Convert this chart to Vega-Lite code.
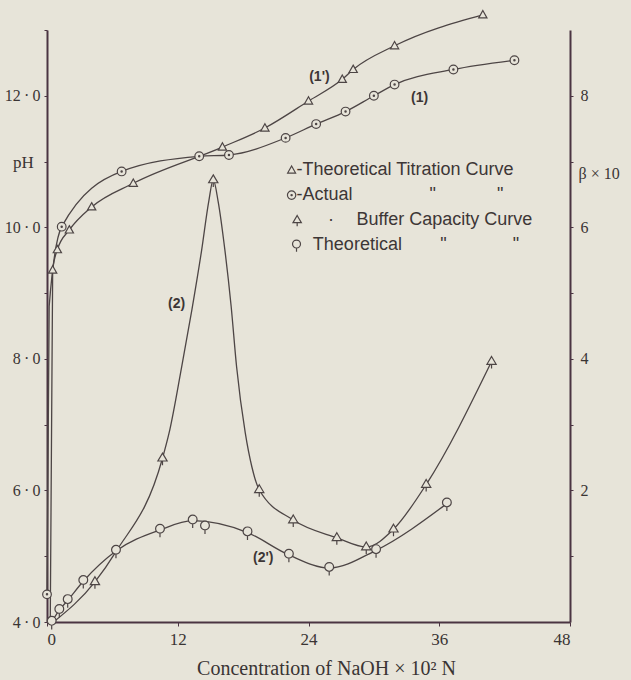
{
  "$schema": "https://vega.github.io/schema/vega-lite/v6.json",
  "width": 523,
  "height": 592,
  "autosize": {"type": "none"},
  "padding": {"left": 47, "top": 30, "right": 61, "bottom": 58},
  "background": "#e7e4d9",
  "config": {
    "view": {"stroke": null},
    "axis": {
      "domainColor": "#4b3442",
      "domainWidth": 2,
      "tickColor": "#4b3442",
      "labelColor": "#3a3434",
      "titleColor": "#3a3434",
      "labelFont": "Liberation Serif",
      "titleFont": "Liberation Serif",
      "titleFontWeight": "normal",
      "grid": false
    }
  },
  "datasets": {
    "titration": [
      {"curve": "1'", "naoh": 0.3, "pH": 4.05, "marker": "no"},
      {"curve": "1'", "naoh": 0.52, "pH": 9.35, "marker": "yes"},
      {"curve": "1'", "naoh": 0.95, "pH": 9.66, "marker": "yes"},
      {"curve": "1'", "naoh": 2.05, "pH": 9.96, "marker": "yes"},
      {"curve": "1'", "naoh": 4.1, "pH": 10.31, "marker": "yes"},
      {"curve": "1'", "naoh": 7.92, "pH": 10.67, "marker": "yes"},
      {"curve": "1'", "naoh": 16.1, "pH": 11.22, "marker": "yes"},
      {"curve": "1'", "naoh": 20.0, "pH": 11.51, "marker": "yes"},
      {"curve": "1'", "naoh": 24.0, "pH": 11.92, "marker": "yes"},
      {"curve": "1'", "naoh": 27.1, "pH": 12.25, "marker": "yes"},
      {"curve": "1'", "naoh": 28.1, "pH": 12.4, "marker": "yes"},
      {"curve": "1'", "naoh": 31.9, "pH": 12.76, "marker": "yes"},
      {"curve": "1'", "naoh": 40.0, "pH": 13.23, "marker": "yes"},
      {"curve": "1", "naoh": 0.0, "pH": 4.42, "marker": "yes"},
      {"curve": "1", "naoh": 0.2, "pH": 8.8, "marker": "no"},
      {"curve": "1", "naoh": 1.35, "pH": 10.01, "marker": "yes"},
      {"curve": "1", "naoh": 6.85, "pH": 10.85, "marker": "yes"},
      {"curve": "1", "naoh": 13.97, "pH": 11.08, "marker": "yes"},
      {"curve": "1", "naoh": 16.7, "pH": 11.1, "marker": "yes"},
      {"curve": "1", "naoh": 21.9, "pH": 11.36, "marker": "yes"},
      {"curve": "1", "naoh": 24.7, "pH": 11.57, "marker": "yes"},
      {"curve": "1", "naoh": 27.4, "pH": 11.76, "marker": "yes"},
      {"curve": "1", "naoh": 30.0, "pH": 12.0, "marker": "yes"},
      {"curve": "1", "naoh": 31.9, "pH": 12.17, "marker": "yes"},
      {"curve": "1", "naoh": 37.3, "pH": 12.4, "marker": "yes"},
      {"curve": "1", "naoh": 42.9, "pH": 12.54, "marker": "yes"}
    ],
    "buffer": [
      {"curve": "2", "naoh": 0.6, "beta": 0.0, "marker": "no"},
      {"curve": "2", "naoh": 4.4, "beta": 0.61, "marker": "yes"},
      {"curve": "2", "naoh": 6.33, "beta": 1.07, "marker": "no"},
      {"curve": "2", "naoh": 10.6, "beta": 2.49, "marker": "yes"},
      {"curve": "2", "naoh": 11.2, "beta": 2.87, "marker": "no"},
      {"curve": "2", "naoh": 12.36, "beta": 3.88, "marker": "no"},
      {"curve": "2", "naoh": 13.3, "beta": 4.75, "marker": "no"},
      {"curve": "2", "naoh": 14.19, "beta": 5.65, "marker": "no"},
      {"curve": "2", "naoh": 14.85, "beta": 6.4, "marker": "no"},
      {"curve": "2", "naoh": 15.26, "beta": 6.72, "marker": "yes"},
      {"curve": "2", "naoh": 15.7, "beta": 6.4, "marker": "no"},
      {"curve": "2", "naoh": 16.33, "beta": 5.65, "marker": "no"},
      {"curve": "2", "naoh": 16.9, "beta": 4.8, "marker": "no"},
      {"curve": "2", "naoh": 17.4, "beta": 3.88, "marker": "no"},
      {"curve": "2", "naoh": 18.2, "beta": 2.87, "marker": "no"},
      {"curve": "2", "naoh": 18.8, "beta": 2.36, "marker": "no"},
      {"curve": "2", "naoh": 19.48, "beta": 2.01, "marker": "yes"},
      {"curve": "2", "naoh": 22.6, "beta": 1.55, "marker": "yes"},
      {"curve": "2", "naoh": 26.6, "beta": 1.28, "marker": "yes"},
      {"curve": "2", "naoh": 29.3, "beta": 1.14, "marker": "yes"},
      {"curve": "2", "naoh": 31.8, "beta": 1.41, "marker": "yes"},
      {"curve": "2", "naoh": 34.8, "beta": 2.09, "marker": "yes"},
      {"curve": "2", "naoh": 40.8, "beta": 3.96, "marker": "yes"},
      {"curve": "2'", "naoh": 0.43, "beta": 0.0, "marker": "yes"},
      {"curve": "2'", "naoh": 1.13, "beta": 0.18, "marker": "yes"},
      {"curve": "2'", "naoh": 1.9, "beta": 0.33, "marker": "yes"},
      {"curve": "2'", "naoh": 3.33, "beta": 0.62, "marker": "yes"},
      {"curve": "2'", "naoh": 6.33, "beta": 1.08, "marker": "yes"},
      {"curve": "2'", "naoh": 10.37, "beta": 1.4, "marker": "yes"},
      {"curve": "2'", "naoh": 13.37, "beta": 1.54, "marker": "yes"},
      {"curve": "2'", "naoh": 14.5, "beta": 1.45, "marker": "off"},
      {"curve": "2'", "naoh": 18.4, "beta": 1.36, "marker": "yes"},
      {"curve": "2'", "naoh": 22.2, "beta": 1.02, "marker": "yes"},
      {"curve": "2'", "naoh": 25.9, "beta": 0.82, "marker": "yes"},
      {"curve": "2'", "naoh": 30.2, "beta": 1.09, "marker": "yes"},
      {"curve": "2'", "naoh": 36.7, "beta": 1.8, "marker": "yes"}
    ],
    "legendSymbols": [
      {"curve": "1'", "naoh": 22.45, "pH": 10.87},
      {"curve": "1", "naoh": 22.45, "pH": 10.49},
      {"curve": "2", "naoh": 22.96, "pH": 10.11},
      {"curve": "2'", "naoh": 22.9, "pH": 9.73}
    ],
    "legendText": [
      {"text": "-Theoretical Titration Curve", "naoh": 22.9, "pH": 10.87},
      {"text": "-Actual", "naoh": 22.9, "pH": 10.49},
      {"text": "\"", "naoh": 35.1, "pH": 10.49},
      {"text": "\"", "naoh": 41.3, "pH": 10.49},
      {"text": "·", "naoh": 25.8, "pH": 10.11},
      {"text": "Buffer Capacity Curve", "naoh": 28.4, "pH": 10.11},
      {"text": "Theoretical", "naoh": 24.4, "pH": 9.73},
      {"text": "\"", "naoh": 36.1, "pH": 9.73},
      {"text": "\"", "naoh": 42.75, "pH": 9.73}
    ],
    "curveLabels": [
      {"text": "(1')", "naoh": 25.0, "pH": 12.29},
      {"text": "(1)", "naoh": 34.2, "pH": 11.96},
      {"text": "(2)", "naoh": 11.9, "pH": 8.84},
      {"text": "(2')", "naoh": 19.85, "pH": 4.97}
    ]
  },
  "encoding": {
    "x": {
      "field": "naoh",
      "type": "quantitative",
      "scale": {"domain": [0, 48], "nice": false, "zero": false},
      "axis": {
        "values": [0, 12, 24, 36, 48],
        "title": "Concentration of NaOH × 10² N",
        "titleFontSize": 20,
        "titleX": 279,
        "titleAnchor": "middle",
        "titlePadding": 11,
        "labelFontSize": 17,
        "labelPadding": 5,
        "tickSize": 4
      }
    }
  },
  "layer": [
    {
      "encoding": {
        "y": {
          "field": "pH",
          "type": "quantitative",
          "scale": {"domain": [4, 13], "nice": false, "zero": false},
          "axis": {
            "orient": "left",
            "values": [4, 5, 6, 7, 8, 9, 10, 11, 12, 13],
            "labelExpr": "datum.value % 2 == 0 ? replace(format(datum.value, '.1f'), '.', '\u2009·\u2009') : ''",
            "labelFontSize": 16,
            "labelPadding": 4,
            "tickSize": 3,
            "title": "pH",
            "titleAngle": 0,
            "titleX": -24,
            "titleY": 132,
            "titleAlign": "center",
            "titleBaseline": "middle",
            "titleFontSize": 17
          }
        }
      },
      "layer": [
        {
          "data": {"name": "titration"},
          "mark": {"type": "line", "interpolate": "monotone", "color": "#4d4545", "strokeWidth": 1.3},
          "encoding": {"detail": {"field": "curve", "type": "nominal"}}
        },
        {
          "data": {"name": "titration"},
          "transform": [{"filter": "datum.marker == 'yes'"}],
          "mark": {"type": "point", "filled": true, "fill": "#e7e4d9", "stroke": "#4d4545", "strokeWidth": 1.2, "size": 75, "opacity": 1},
          "encoding": {
            "shape": {
              "field": "curve",
              "type": "nominal",
              "scale": {
                "domain": ["1'", "1", "2", "2'"],
                "range": [
                  "M0,-1L0.95,0.7L-0.95,0.7Z",
                  "M-1,0A1,1 0 1,0 1,0A1,1 0 1,0 -1,0Z M-0.15,0A0.15,0.15 0 1,0 0.15,0A0.15,0.15 0 1,0 -0.15,0Z",
                  "M0,-1.1L1,0.6L-1,0.6Z M0,0.6L0,1.5",
                  "M-0.95,-0.25A0.95,0.95 0 1,0 0.95,-0.25A0.95,0.95 0 1,0 -0.95,-0.25Z M0,0.7L0,1.6"
                ]
              },
              "legend": null
            }
          }
        },
        {
          "data": {"name": "legendSymbols"},
          "mark": {"type": "point", "filled": true, "fill": "#e7e4d9", "stroke": "#4d4545", "strokeWidth": 1.2, "size": 70, "opacity": 1},
          "encoding": {
            "shape": {"field": "curve", "type": "nominal", "legend": null}
          }
        },
        {
          "data": {"name": "legendText"},
          "mark": {"type": "text", "align": "left", "baseline": "middle", "font": "Liberation Sans", "fontSize": 18, "color": "#3d3636"},
          "encoding": {"text": {"field": "text"}}
        },
        {
          "data": {"name": "curveLabels"},
          "mark": {"type": "text", "align": "center", "baseline": "middle", "font": "Liberation Sans", "fontWeight": "bold", "fontSize": 14, "color": "#3d3636"},
          "encoding": {"text": {"field": "text"}}
        }
      ]
    },
    {
      "data": {"name": "buffer"},
      "encoding": {
        "y": {
          "field": "beta",
          "type": "quantitative",
          "scale": {"domain": [0, 9], "nice": false, "zero": false},
          "axis": {
            "orient": "right",
            "values": [1, 2, 3, 4, 5, 6, 7, 8],
            "labelExpr": "datum.value % 2 == 0 ? format(datum.value, 'd') : ''",
            "labelFontSize": 16,
            "labelPadding": 7,
            "tickSize": 3,
            "title": "β × 10",
            "titleAngle": 0,
            "titleX": 8,
            "titleY": 143,
            "titleAlign": "left",
            "titleBaseline": "middle",
            "titleFontSize": 16
          }
        }
      },
      "layer": [
        {
          "transform": [{"filter": "datum.marker != 'off'"}],
          "mark": {"type": "line", "interpolate": "monotone", "color": "#4d4545", "strokeWidth": 1.3},
          "encoding": {"detail": {"field": "curve", "type": "nominal"}}
        },
        {
          "transform": [{"filter": "datum.marker != 'no'"}],
          "mark": {"type": "point", "filled": true, "fill": "#e7e4d9", "stroke": "#4d4545", "strokeWidth": 1.2, "size": 85, "opacity": 1},
          "encoding": {
            "shape": {"field": "curve", "type": "nominal", "legend": null}
          }
        }
      ]
    }
  ],
  "resolve": {"scale": {"y": "independent"}}
}
